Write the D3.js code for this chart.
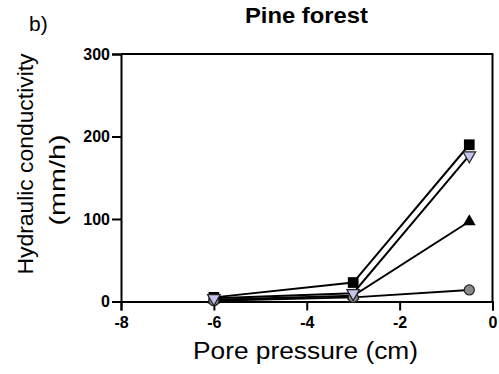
<!DOCTYPE html>
<html>
<head>
<meta charset="utf-8">
<script src="https://cdn.jsdelivr.net/npm/d3@7"></script>
<style>
  html, body { margin: 0; padding: 0; background: #fff; }
  svg { display: block; }
  text { font-family: Arial, "Liberation Sans", sans-serif; fill: #000; }
</style>
</head>
<body>
<svg id="chart" width="499" height="374"></svg>
<script>
// Pore pressure (cm) at which conductivity was measured
const pressures = [-6, -3, -0.5];

// Hydraulic conductivity (mm/h), one series per marker
const seriesSquare   = [5, 23, 190];
const seriesTriDown  = [4, 10, 177];
const seriesTriUp    = [2, 7, 97];
const seriesCircle   = [1, 5, 14];

const xTicks = [-8, -6, -4, -2, 0];
const yTicks = [0, 100, 200, 300];

const svg = d3.select("#chart");

const x = d3.scaleLinear().domain([-8, 0]).range([121, 492.5]);
const y = d3.scaleLinear().domain([0, 300]).range([301.5, 54]);

// frame: top and right edges of the plot area
svg.append("path")
  .attr("d", `M${x(-8)},${y(300)}H${x(0)}V${y(0)}`)
  .attr("fill", "none").attr("stroke", "#000").attr("stroke-width", 2);

// axes
const xAxis = svg.append("g")
  .attr("transform", `translate(0,${y(0)})`)
  .call(d3.axisBottom(x).tickValues(xTicks).tickSize(9).tickPadding(4).tickFormat(d3.format("d")));
const yAxis = svg.append("g")
  .attr("transform", `translate(${x(-8)},0)`)
  .call(d3.axisLeft(y).tickValues(yTicks).tickSize(9).tickPadding(2));

[xAxis, yAxis].forEach(g => {
  g.select(".domain").attr("stroke", "#000").attr("stroke-width", 2);
  g.selectAll(".tick line").attr("stroke", "#000").attr("stroke-width", 2);
  g.selectAll(".tick text")
    .attr("fill", "#000")
    .style("font-family", "Arial, 'Liberation Sans', sans-serif")
    .style("font-size", "16px").style("font-weight", "bold");
});
xAxis.selectAll(".tick text").text(d => d < 0 ? "-" + Math.abs(d) : d);
xAxis.selectAll(".tick text").attr("dy", "0.85em");

// series
const series = [
  { values: seriesSquare,  shape: d3.symbolSquare,   fill: "#000",    rot: 0,   size: 115 },
  { values: seriesTriUp,   shape: d3.symbolTriangle, fill: "#000",    rot: 0,   size: 70 },
  { values: seriesCircle,  shape: d3.symbolCircle,   fill: "#8a8a8a", rot: 0,   size: 80 },
  { values: seriesTriDown, shape: d3.symbolTriangle, fill: "#c4c4ec", rot: 180, size: 70 }
];

const line = d3.line().x((d, i) => x(pressures[i])).y(d => y(d));

series.forEach(s => {
  svg.append("path")
    .attr("d", line(s.values))
    .attr("fill", "none").attr("stroke", "#000").attr("stroke-width", 2);
});

series.forEach(s => {
  svg.append("g").selectAll("path")
    .data(s.values)
    .join("path")
    .attr("d", d3.symbol().type(s.shape).size(s.size))
    .attr("transform", (d, i) => `translate(${x(pressures[i])},${y(d)}) rotate(${s.rot})`)
    .attr("fill", s.fill)
    .attr("stroke", s.fill === "#000" ? "none" : "#222")
    .attr("stroke-width", 1.2);
});

// labels
svg.append("text")
  .attr("x", 306.5).attr("y", 23)
  .attr("text-anchor", "middle")
  .style("font-size", "22px").style("font-weight", "bold")
  .attr("textLength", 123).attr("lengthAdjust", "spacingAndGlyphs")
  .text("Pine forest");

svg.append("text")
  .attr("x", 29).attr("y", 31)
  .style("font-size", "21px")
  .text("b)");

svg.append("text")
  .attr("x", 305.5).attr("y", 359)
  .attr("text-anchor", "middle")
  .style("font-size", "23px")
  .attr("textLength", 225).attr("lengthAdjust", "spacingAndGlyphs")
  .text("Pore pressure (cm)");

svg.append("text")
  .attr("transform", "translate(33,164) rotate(-90)")
  .attr("text-anchor", "middle")
  .style("font-size", "22px")
  .attr("textLength", 221).attr("lengthAdjust", "spacingAndGlyphs")
  .text("Hydraulic conductivity");

svg.append("text")
  .attr("transform", "translate(65,180) rotate(-90)")
  .attr("text-anchor", "middle")
  .style("font-size", "22px")
  .attr("textLength", 91).attr("lengthAdjust", "spacingAndGlyphs")
  .text("(mm/h)");
</script>
</body>
</html>
